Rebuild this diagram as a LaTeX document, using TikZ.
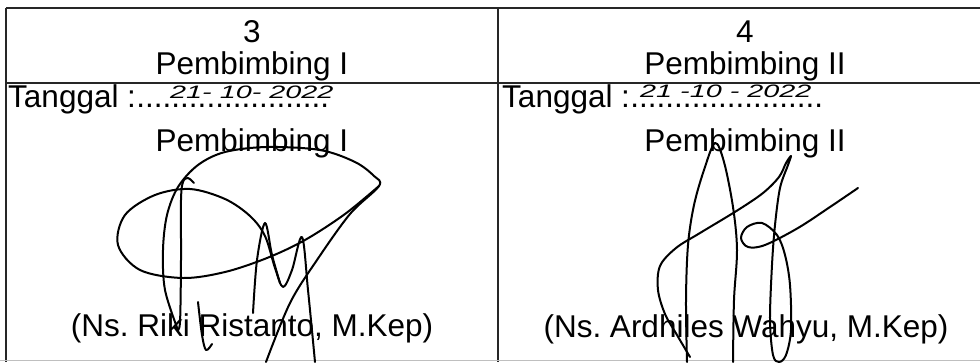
\documentclass[tikz,border=0pt]{standalone}
\usepackage{fontspec}
\setmainfont{Liberation Sans}
\frenchspacing
\begin{document}
\begin{tikzpicture}[x=1pt,y=-1pt,
  txt/.style={inner sep=0pt,font=\fontsize{31.5}{34}\selectfont},
  hand/.style={inner sep=0pt,font=\fontsize{18}{19}\selectfont\itshape},
  rule/.style={line width=1.5pt,black!85},
  sig/.style={line width=2pt,line cap=round,line join=round}]
\useasboundingbox (0,0) rectangle (980,362);
\fill[white] (0,0) rectangle (980,362);
% table rules
\draw[rule] (6,8) -- (980,8);
\draw[rule] (6,83) -- (980,83);
\draw[rule] (6,8) -- (6,362);
\draw[rule] (498,8) -- (498,362);
\draw[line width=1pt,black!25] (0,360) -- (980,360);
% left column
\node[txt,anchor=base] (n3) at (252,42) {3};
\node[txt,anchor=base] (h1) at (252,74) {Pembimbing I};
\node[txt,anchor=base west] (t1) at (8,107) {Tanggal :};
\node[txt,anchor=base west] (dots1) at (t1.base east) {......................};
\node[hand,anchor=base west] (d1) at (170,98) {\scalebox{1.6}[1]{21- 10- 2022}};
\node[txt,anchor=base] (p1) at (252,151) {Pembimbing I};
\node[txt,anchor=base] (s1) at (252,336) {(Ns. Riki Ristanto, M.Kep)};
% right column
\node[txt,anchor=base] (n4) at (745,42) {4};
\node[txt,anchor=base] (h2) at (745,74) {Pembimbing II};
\node[txt,anchor=base west] (t2) at (502,107) {Tanggal :};
\node[hand,anchor=base west] (d2) at (640,97) {\scalebox{1.6}[1]{21 -10 - 2022}};
\node[txt,anchor=base west] (dots2) at (t2.base east) {......................};
\node[txt,anchor=base] (p2) at (745,151) {Pembimbing II};
\node[txt,anchor=base] (s2) at (746,337) {(Ns. Ardhiles Wahyu, M.Kep)};
% left signature
\draw[sig] plot[smooth,tension=0.55] coordinates {(178,330) (165,290) (163,250) (167,215) (178,187) (198,165) (225,152) (267,147) (320,150) (355,162) (374,176) (379,186) (350,214) (317,260) (290,303) (266,362)};
\draw[sig] plot[smooth,tension=0.55] coordinates {(194,183) (188,178) (183,182) (181,200) (181,260) (180,322) (177,330)};
\draw[sig] plot[smooth,tension=0.55] coordinates {(198,302) (202,335) (206,350) (212,344)};
\draw[sig] plot[smooth,tension=0.55] coordinates {(379,186) (345,214) (305,240) (267,258) (225,272) (183,278) (140,270) (118,245) (125,215) (155,195) (190,189) (225,199) (250,216) (265,236) (275,268) (283,287) (292,270) (302,237) (308,290) (315,362)};
\draw[sig] plot[smooth,tension=0.55] coordinates {(253,313) (257,260) (265,223) (272,255) (280,283)};
% right signature
\draw[sig] plot[smooth,tension=0.55] coordinates {(687,362) (686,300) (688,245) (694,205) (704,170) (715,143) (724,162) (733,207) (737,250) (734,300) (733,362)};
\draw[sig] plot[smooth,tension=0.55] coordinates {(690,357) (677,335) (665,314) (658,290) (660,266) (676,248) (700,233) (738,210) (763,193) (779,177) (786,163) (791,156) (788,165) (780,188) (775,225) (772,265) (770,320) (773,355) (779,362) (786,355) (791,330) (790,285) (785,255) (777,235) (762,223) (747,227) (741,238) (748,247) (765,245) (798,228) (830,207) (858,188)};
\end{tikzpicture}
\end{document}
